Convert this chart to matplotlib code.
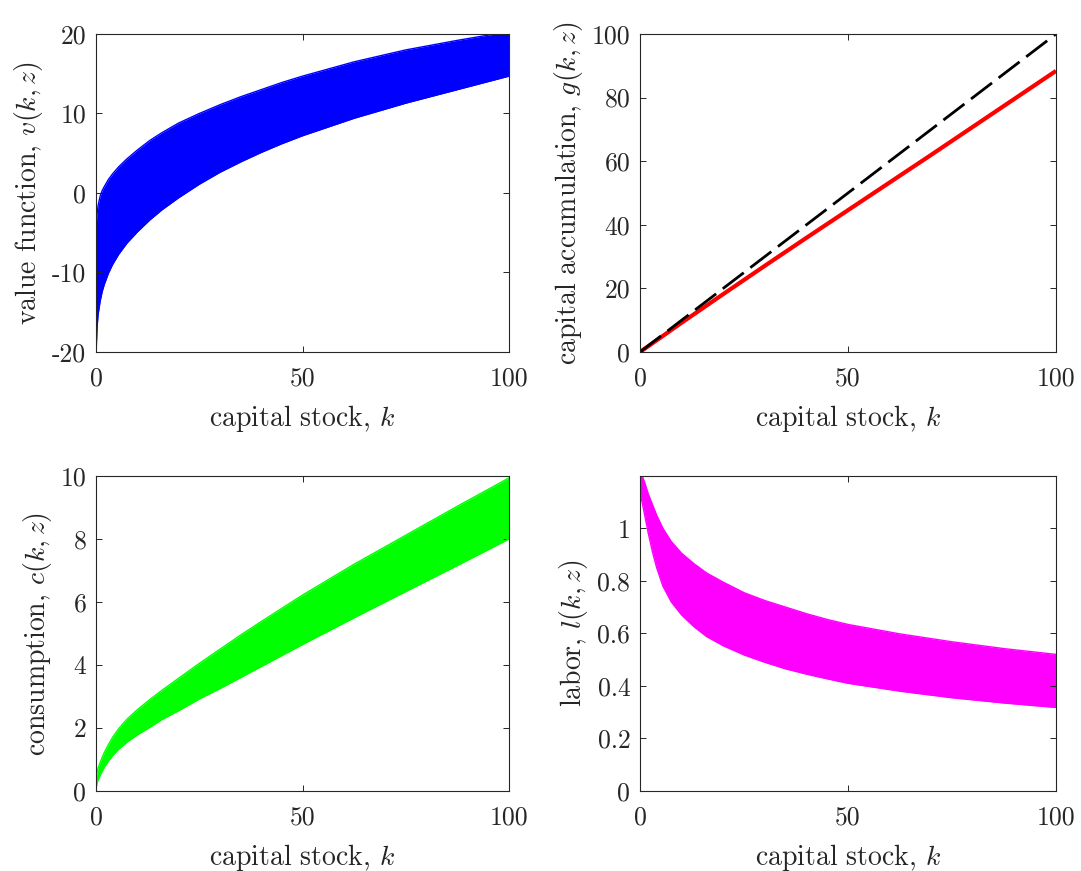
import matplotlib
matplotlib.use("Agg")
import matplotlib.pyplot as plt
from matplotlib.ticker import FuncFormatter, FixedLocator

# ---------------- data ----------------
K_GRID = [0, 0.25, 0.5, 1, 1.5, 2, 3, 4, 5.5, 7.5, 10, 13, 16, 20, 25, 30,
          35, 40, 45, 50, 62.5, 75, 87.5, 100]

# value function: highest-z line and lowest-z line
V_TOP = [-4.5, -2.6, -1.6, -0.4, 0.3, 0.8, 1.7, 2.4, 3.3, 4.3, 5.4, 6.6, 7.6,
         8.8, 10.0, 11.1, 12.1, 13.0, 13.9, 14.7, 16.5, 18.0, 19.2, 20.3]
V_BOT = [-20.5, -17.0, -15.3, -13.6, -12.4, -11.5, -10.1, -9.0, -7.7, -6.3,
         -4.9, -3.4, -2.1, -0.6, 1.1, 2.6, 3.9, 5.1, 6.2, 7.2, 9.4, 11.3,
         13.0, 14.7]

# consumption
C_TOP = [0.35, 0.6, 0.72, 0.9, 1.07, 1.22, 1.47, 1.7, 1.98, 2.28, 2.58, 2.9,
         3.2, 3.58, 4.05, 4.5, 4.95, 5.38, 5.8, 6.22, 7.2, 8.12, 9.04, 9.94]
C_BOT = [0.05, 0.25, 0.35, 0.5, 0.63, 0.75, 0.95, 1.12, 1.33, 1.55, 1.78,
         2.02, 2.27, 2.55, 2.92, 3.25, 3.6, 3.95, 4.3, 4.65, 5.5, 6.33, 7.16,
         8.0]

# labor
L_TOP = [1.2, 1.2, 1.2, 1.18, 1.155, 1.13, 1.09, 1.05, 1.0, 0.95, 0.905,
         0.865, 0.83, 0.795, 0.755, 0.725, 0.7, 0.675, 0.653, 0.634, 0.598,
         0.568, 0.542, 0.52]
L_BOT = [1.13, 1.115, 1.1, 1.06, 1.02, 0.98, 0.91, 0.85, 0.78, 0.72, 0.67,
         0.625, 0.588, 0.553, 0.518, 0.49, 0.465, 0.445, 0.427, 0.41, 0.38,
         0.355, 0.335, 0.318]

# capital accumulation (policy) and 45-degree line
K_G = [0, 10, 20, 30, 40, 50, 60, 70, 80, 90, 100]
G_POL = [0, 9.2, 18.2, 27.1, 35.9, 44.6, 53.3, 62.0, 70.8, 79.6, 88.4]

X_TICKS = [0, 50, 100]
V_TICKS = [-20, -10, 0, 10, 20]
G_TICKS = [0, 20, 40, 60, 80, 100]
C_TICKS = [0, 2, 4, 6, 8, 10]
L_TICKS = [0, 0.2, 0.4, 0.6, 0.8, 1]

XLABEL = "capital stock, $k$"
YLABELS = ["value function, $v(k,z)$", "capital accumulation, $g(k,z)$",
           "consumption, $c(k,z)$", "labor, $l(k,z)$"]

# ---------------- style ----------------
plt.rcParams.update({
    "font.family": "cmr10",
    "mathtext.fontset": "cm",
    "axes.unicode_minus": False,
    "font.size": 18,
})

fig = plt.figure(figsize=(10.81, 8.71), dpi=100)
W, H = 1081.0, 871.0


def make_ax(x0, x1, y0, y1):
    return fig.add_axes([x0 / W, 1 - y1 / H, (x1 - x0) / W, (y1 - y0) / H])


ax_v = make_ax(96, 509, 34, 352)
ax_g = make_ax(640, 1056, 34, 352)
ax_c = make_ax(96, 509, 476, 791)
ax_l = make_ax(640, 1056, 476, 791)

fmt = FuncFormatter(lambda v, p: f"{v:g}")
spine_col = (0.15, 0.15, 0.15)
TICK_FS = 18.5
LABEL_FS = 20


def style(ax, yticks, ylim, ylabel):
    ax.set_xlim(0, 100)
    ax.set_ylim(*ylim)
    ax.xaxis.set_major_locator(FixedLocator(X_TICKS))
    ax.yaxis.set_major_locator(FixedLocator(yticks))
    ax.xaxis.set_major_formatter(fmt)
    ax.yaxis.set_major_formatter(fmt)
    ax.tick_params(direction="in", length=4, width=0.7, top=True, right=True,
                   colors=spine_col, labelcolor="#262626", labelsize=TICK_FS)
    ax.tick_params(axis="x", pad=10.5)
    ax.tick_params(axis="y", pad=7)
    for s in ax.spines.values():
        s.set_color(spine_col)
        s.set_linewidth(0.8)
    ax.set_xlabel(XLABEL, fontsize=LABEL_FS, color="#262626", labelpad=9)
    ax.set_ylabel(ylabel, fontsize=LABEL_FS, color="#262626", labelpad=5)


# value function
ax_v.fill_between(K_GRID, V_BOT, V_TOP, color=(0, 0, 1), lw=0)
ax_v.plot(K_GRID, V_TOP, color=(0, 0, 1), lw=1)
ax_v.plot(K_GRID, V_BOT, color=(0, 0, 1), lw=1)
style(ax_v, V_TICKS, (-20, 20), YLABELS[0])

# capital accumulation
ax_g.plot(K_G, G_POL, color=(1, 0, 0), lw=3, solid_capstyle="butt")
ax_g.plot(K_G, K_G, color="k", lw=2, dashes=(9.5, 3))
style(ax_g, G_TICKS, (0, 100), YLABELS[1])

# consumption
ax_c.fill_between(K_GRID, C_BOT, C_TOP, color=(0, 1, 0), lw=0)
ax_c.plot(K_GRID, C_TOP, color=(0, 1, 0), lw=1)
ax_c.plot(K_GRID, C_BOT, color=(0, 1, 0), lw=1)
style(ax_c, C_TICKS, (0, 10), YLABELS[2])

# labor
ax_l.fill_between(K_GRID, L_BOT, L_TOP, color=(1, 0, 1), lw=0)
ax_l.plot(K_GRID, L_TOP, color=(1, 0, 1), lw=1)
ax_l.plot(K_GRID, L_BOT, color=(1, 0, 1), lw=1)
style(ax_l, L_TICKS, (0, 1.199), YLABELS[3])

fig.savefig("out.png", dpi=100)
